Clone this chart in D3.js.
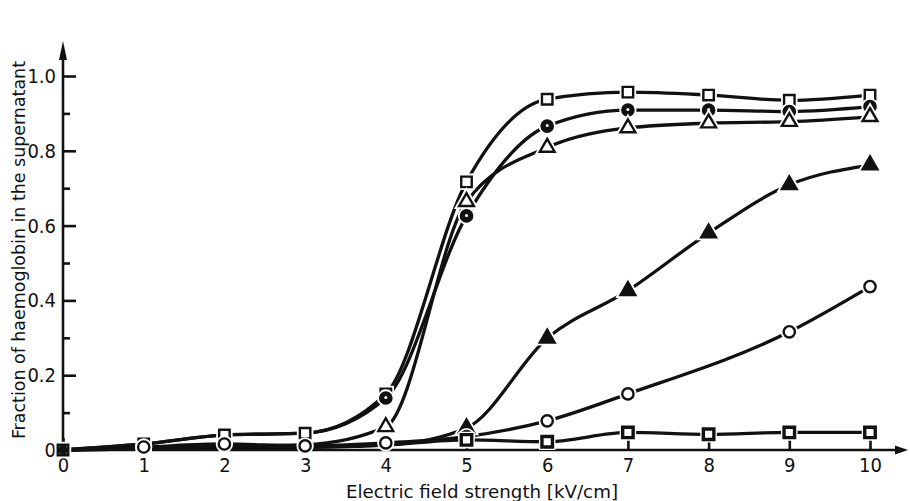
<!DOCTYPE html>
<html>
<head>
<meta charset="utf-8">
<script src="https://cdn.jsdelivr.net/npm/d3@7"></script>
<style>
  body { margin: 0; background: #fff; }
  svg { display: block; }
  text { font-family: "DejaVu Sans Condensed", "Liberation Sans Narrow", "DejaVu Sans", sans-serif; font-stretch: condensed; fill: #111; }
</style>
</head>
<body>
<svg id="chart" width="910" height="501"></svg>
<script>
// Field strength (kV/cm) at which each sample was measured
const fieldStrength = [0, 1, 2, 3, 4, 5, 6, 7, 8, 9, 10];

// Fraction of haemoglobin released into the supernatant, one array per series
const openSquare     = [0, 0.016, 0.040, 0.045, 0.150, 0.717, 0.938, 0.957, 0.949, 0.935, 0.949];
const halfCircle     = [0, 0.016, 0.040, 0.045, 0.139, 0.626, 0.866, 0.909, 0.909, 0.905, 0.918];
const openTriangle   = [0, 0.005, 0.010, 0.014, 0.062, 0.664, 0.809, 0.861, 0.874, 0.878, 0.891];
const filledTriangle = [0, 0.003, 0.005, 0.007, 0.013, 0.059, 0.299, 0.426, 0.580, 0.709, 0.762];
const openCircleX    = [0, 1, 2, 3, 4, 5, 6, 7, 9, 10];
const openCircle     = [0, 0.008, 0.016, 0.011, 0.019, 0.036, 0.078, 0.150, 0.316, 0.437];
const darkSquare     = [0, 0.003, 0.005, 0.007, 0.013, 0.027, 0.022, 0.047, 0.042, 0.047, 0.047];

// Axis ticks
const yMajor = [0, 0.2, 0.4, 0.6, 0.8, 1.0];
const yMinor = [0.1, 0.3, 0.5, 0.7, 0.9];

const svg = d3.select("#chart");
const x = d3.scaleLinear().domain([0, 10]).range([63, 870]);
const y = d3.scaleLinear().domain([0, 1]).range([450, 76]);

const ink = "#111";

// Series definitions: which symbol, and from which point on markers are drawn
const series = [
  { xs: fieldStrength, ys: openSquare,     shape: "square",   fill: "#fff", first: 0 },
  { xs: fieldStrength, ys: halfCircle,     shape: "half",     fill: ink,    first: 4 },
  { xs: fieldStrength, ys: openTriangle,   shape: "triangle", fill: "#fff", first: 4 },
  { xs: fieldStrength, ys: filledTriangle, shape: "triangle", fill: ink,    first: 5 },
  { xs: openCircleX,   ys: openCircle,     shape: "circle",   fill: "#fff", first: 1 },
  { xs: fieldStrength, ys: darkSquare,     shape: "dsquare",  fill: "#fff", first: 5 }
];

// ---- axes ----
const xAxis = svg.append("g")
  .attr("transform", `translate(0,${y(0)})`)
  .call(d3.axisBottom(x).tickValues(fieldStrength).tickSize(-12).tickPadding(8).tickFormat(d3.format("d")));
xAxis.select(".domain").remove();

const yAxis = svg.append("g")
  .attr("transform", `translate(${x(0)},0)`)
  .call(d3.axisLeft(y).tickValues(yMajor).tickSize(-13).tickPadding(7)
    .tickFormat(d => d === 0 ? "0" : d.toFixed(1)));
yAxis.select(".domain").remove();

const yMinorAxis = svg.append("g")
  .attr("transform", `translate(${x(0)},0)`)
  .call(d3.axisLeft(y).tickValues(yMinor).tickSize(-7).tickFormat(""));
yMinorAxis.select(".domain").remove();

svg.selectAll(".tick line").attr("stroke", ink).attr("stroke-width", 2.6);
svg.selectAll(".tick text").attr("font-size", 20).style("fill", ink);

// axis lines with arrow heads
svg.append("line").attr("x1", x(0)).attr("y1", y(0)).attr("x2", x(0)).attr("y2", 56)
  .attr("stroke", ink).attr("stroke-width", 2.6);
svg.append("path").attr("d", `M${x(0)},41 L${x(0) - 4},60 L${x(0) + 4},60 Z`).attr("fill", ink);
svg.append("line").attr("x1", x(0)).attr("y1", y(0)).attr("x2", 898).attr("y2", y(0))
  .attr("stroke", ink).attr("stroke-width", 2.6);
svg.append("path").attr("d", `M908,${y(0)} L895,${y(0) - 4.5} L895,${y(0) + 4.5} Z`).attr("fill", ink);

// axis titles
svg.append("text")
  .attr("x", 482).attr("y", 498)
  .attr("text-anchor", "middle").attr("font-size", 18)
  .attr("textLength", 272).attr("lengthAdjust", "spacingAndGlyphs")
  .text("Electric field strength [kV/cm]");
svg.append("text")
  .attr("transform", `translate(25,250) rotate(-90)`)
  .attr("text-anchor", "middle").attr("font-size", 18)
  .attr("textLength", 378).attr("lengthAdjust", "spacingAndGlyphs")
  .text("Fraction of haemoglobin in the supernatant");

// ---- curves ----
const line = d3.line().x(d => x(d[0])).y(d => y(d[1])).curve(d3.curveMonotoneX);
series.forEach(s => {
  const pts = s.xs.map((v, i) => [v, s.ys[i]]);
  svg.append("path").attr("d", line(pts))
    .attr("fill", "none").attr("stroke", ink).attr("stroke-width", 3.3).attr("stroke-linecap", "round");
});

// ---- markers ----
const symbolPath = shape => {
  if (shape === "square" || shape === "dsquare") return d3.symbol(d3.symbolSquare, 110)();
  if (shape === "triangle") return d3.symbol(d3.symbolTriangle, 95)();
  return d3.symbol(d3.symbolCircle, 100)();
};

series.forEach(s => {
  const pts = s.xs.map((v, i) => [v, s.ys[i]]).filter((p, i) => i >= s.first);
  const g = svg.append("g");
  // white clearance around each marker
  g.selectAll(".halo").data(pts).join("path")
    .attr("transform", d => `translate(${x(d[0])},${y(d[1])})`)
    .attr("d", symbolPath(s.shape))
    .attr("fill", "#fff").attr("stroke", "#fff").attr("stroke-width", 6);
  g.selectAll(".mk").data(pts).join("path")
    .attr("transform", d => `translate(${x(d[0])},${y(d[1])})`)
    .attr("d", symbolPath(s.shape))
    .attr("fill", s.fill).attr("stroke", ink)
    .attr("stroke-width", s.shape === "dsquare" ? 3.4 : 2.4);
  if (s.shape === "half") {
    g.selectAll(".dot").data(pts).join("circle")
      .attr("cx", d => x(d[0])).attr("cy", d => y(d[1]) - 0.5).attr("r", 1.5).attr("fill", "#fff");
  }
});

// origin marker
svg.append("path").attr("transform", `translate(${x(0)},${y(0)})`)
  .attr("d", d3.symbol(d3.symbolCircle, 80)()).attr("fill", ink);
</script>
</body>
</html>
